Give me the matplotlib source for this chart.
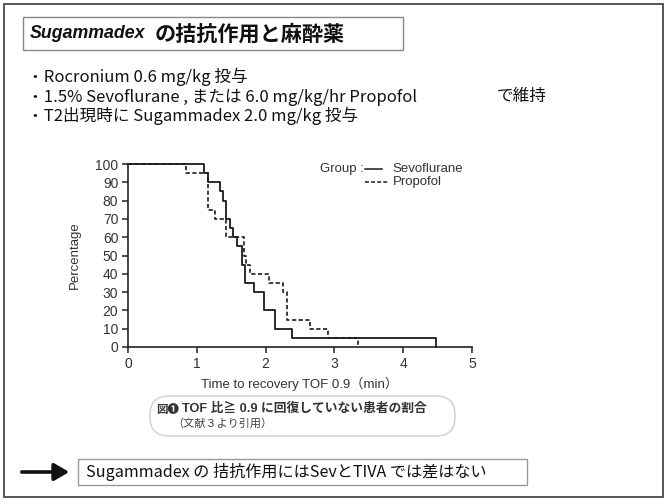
import matplotlib
matplotlib.use("Agg")
import matplotlib.pyplot as plt
from matplotlib.patches import Rectangle, FancyBboxPatch, FancyArrowPatch
from matplotlib.lines import Line2D

# Kaplan-Meier style data: time (min) at which each step occurs, % not yet recovered
sevo_time = [0, 1.10, 1.17, 1.33, 1.38, 1.43, 1.48, 1.52, 1.58, 1.65, 1.70, 1.83, 1.98, 2.13, 2.39, 4.48]
sevo_pct = [100, 95, 90, 85, 80, 70, 65, 60, 55, 45, 35, 30, 20, 10, 5, 0]
prop_time = [0, 0.85, 1.17, 1.26, 1.43, 1.68, 1.72, 1.77, 2.05, 2.25, 2.31, 2.64, 2.91, 3.35]
prop_pct = [100, 95, 75, 70, 60, 50, 45, 40, 35, 30, 15, 10, 5, 0]

x_ticks = [0, 1, 2, 3, 4, 5]
y_ticks = [0, 10, 20, 30, 40, 50, 60, 70, 80, 90, 100]

title_latin = "Sugammadex"
title_jp = "の拮抗作用と麻酔薬"
bullets = [
    "・Rocronium 0.6 mg/kg 投与",
    "・1.5% Sevoflurane , または 6.0 mg/kg/hr Propofol",
    "・T2出現時に Sugammadex 2.0 mg/kg 投与",
]
bullet_tail = "で維持"
caption_mark = "図❶"
caption_1 = "TOF 比≧ 0.9 に回復していない患者の割合"
caption_2 = "（文献３より引用）"
conclusion = "Sugammadex の 拮抗作用にはSevとTIVA では差はない"

W, H = 667, 504
JP = ["Noto Sans CJK JP", "DejaVu Sans"]
CHART = ["Liberation Sans", "Noto Sans CJK JP"]

fig = plt.figure(figsize=(W / 100, H / 100), dpi=100)
fig.patch.set_facecolor("white")

# page layer in pixel units (origin top-left) for the slide decoration
page = fig.add_axes([0, 0, 1, 1], zorder=0)
page.set_xlim(0, W)
page.set_ylim(H, 0)
page.axis("off")

# slide frame
page.add_patch(Rectangle((4, 4), 659, 493, fill=False, edgecolor="#555555", lw=1.4))

# title box and title
page.add_patch(Rectangle((23, 17), 380, 33, fill=False, edgecolor="#888888", lw=1.0))
page.text(30, 34, title_latin, family=CHART, style="italic", weight="bold",
          fontsize=12.8, va="center", ha="left", color="#111111")
page.text(155, 34, title_jp, family=JP, weight="bold",
          fontsize=15.2, va="center", ha="left", color="#111111")

# bullet lines
for y, line in zip([77, 97, 116], bullets):
    page.text(27, y, line, family=JP, fontsize=12, va="center", ha="left", color="#111111")
page.text(497, 97, bullet_tail, family=JP, fontsize=12, va="center", ha="left", color="#111111")

# caption pill
page.add_patch(FancyBboxPatch((150, 396), 305, 40, boxstyle="round,pad=0,rounding_size=19",
                              fill=False, edgecolor="#d0d0d0", lw=1.0))
page.text(156, 409, caption_mark, family=JP, weight="bold", fontsize=8.3, va="center", ha="left",
          color="#333333")
page.text(182, 409, caption_1, family=CHART, weight="bold", fontsize=9.2, va="center", ha="left",
          color="#333333")
page.text(172, 424, caption_2, family=JP, fontsize=8, va="center", ha="left", color="#444444")

# conclusion box with arrow
page.add_patch(FancyArrowPatch((19, 472), (72, 472), arrowstyle="-|>,head_length=6,head_width=3.5",
                               color="#111111", lw=2.6, mutation_scale=1.5))
page.add_patch(Rectangle((78, 459), 449, 26, fill=False, edgecolor="#999999", lw=1.0))
page.text(86, 472, conclusion, family=JP, fontsize=11.6, va="center", ha="left", color="#111111")

# chart
ax = fig.add_axes([128 / W, 1 - 347 / H, 344 / W, 183 / H], zorder=1)
ax.patch.set_alpha(0)
ax.step(sevo_time, sevo_pct, where="post", color="#1a1a1a", lw=1.3, clip_on=False)
ax.step(prop_time, prop_pct, where="post", color="#1a1a1a", lw=1.2, ls=(0, (2.5, 1.5)), clip_on=False)
ax.set_xlim(0, 5)
ax.set_ylim(0, 100)
ax.set_xticks(x_ticks)
ax.set_yticks(y_ticks)
for s in ["top", "right"]:
    ax.spines[s].set_visible(False)
for s in ["left", "bottom"]:
    ax.spines[s].set_linewidth(1.2)
    ax.spines[s].set_color("#222222")
ax.tick_params(direction="out", length=4, width=1.1, colors="#222222", labelsize=10, pad=3)
for lab in ax.get_xticklabels() + ax.get_yticklabels():
    lab.set_family(CHART)
    lab.set_color("#333333")
ax.set_ylabel("Percentage", family=CHART, fontsize=9.5, color="#333333", labelpad=10)
ax.set_xlabel("Time to recovery TOF 0.9（min）", family=CHART, fontsize=9.5, color="#333333", labelpad=4)

# legend
ax.text(0.685, 0.97, "Group :", transform=ax.transAxes, family=CHART, fontsize=9.5,
        color="#333333", ha="right", va="center")
ax.add_line(Line2D([0.689, 0.738], [0.97, 0.97], transform=ax.transAxes, color="#1a1a1a", lw=1.1))
ax.add_line(Line2D([0.689, 0.760], [0.899, 0.899], transform=ax.transAxes, color="#1a1a1a", lw=1.1,
                   ls=(0, (2.5, 1.5))))
ax.text(0.77, 0.97, "Sevoflurane", transform=ax.transAxes, family=CHART, fontsize=9.5,
        color="#333333", ha="left", va="center")
ax.text(0.77, 0.899, "Propofol", transform=ax.transAxes, family=CHART, fontsize=9.5,
        color="#333333", ha="left", va="center")

fig.savefig("out.png", dpi=100, facecolor="white")
